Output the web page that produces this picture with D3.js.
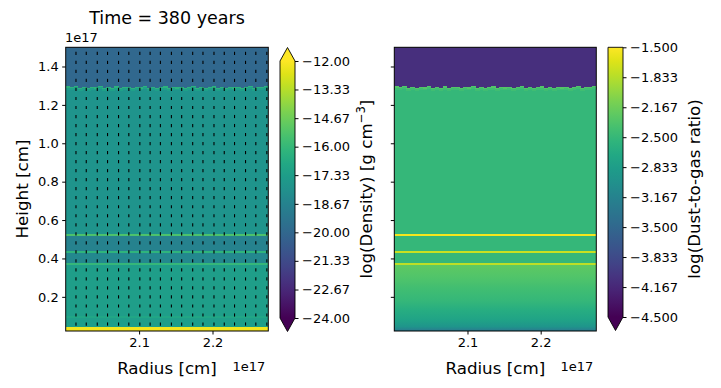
<!DOCTYPE html>
<html><head><meta charset="utf-8">
<script src="https://cdn.jsdelivr.net/npm/d3@7"></script>
<style>body{margin:0;background:#fff}svg{display:block}text{font-family:"DejaVu Sans",sans-serif;fill:#000}</style>
</head><body><svg id="c" width="721" height="388"></svg>
<script>
// ---------- data (heights/radii in units of 1e17 cm) ----------
const title = "Time = 380 years";
const radiusDomain = [2.0, 2.276];
const heightDomain = [0.022, 1.5];
const xTicks = [2.1, 2.2];
const yTicks = [0.2, 0.4, 0.6, 0.8, 1.0, 1.2, 1.4];
const densTicks = [-12.00, -13.33, -14.67, -16.00, -17.33, -18.67, -20.00, -21.33, -22.67, -24.00];
const dustTicks = [-1.500, -1.833, -2.167, -2.500, -2.833, -3.167, -3.500, -3.833, -4.167, -4.500];
// ragged shock front height per radial column
const frontHeight = [1.296,1.292,1.298,1.290,1.294,1.289,1.295,1.291,1.297,1.288,1.293,1.290,1.296,1.289,1.292,1.295,1.288,1.293,1.291,1.297,1.289,1.294,1.290,1.292,1.296,1.288,1.293,1.291,1.295,1.289,1.292,1.297,1.290,1.294,1.288,1.293,1.296,1.290,1.292,1.289,1.295,1.291,1.294,1.288,1.293,1.297,1.290,1.292,1.295,1.298];
// values above front / at front edge
const aboveDens = -20.0, aboveDust = -4.1;
const edgeDens = -16.3, edgeDust = -2.3;
// banded vertical profile between the layers and the front
const bandLo =   [0.368, 0.519, 0.437, 0.427, 0.378, 0.368];
const bandHi =   [1.300, 0.529, 0.519, 0.437, 0.427, 0.378];
const bandDens = [-17.8, -15.4, -18.7, -16.2, -18.4, -16.0];
const bandDust = [-2.50, -1.55, -2.50, -1.75, -2.50, -1.80];
// lower region profile (below the layers)
const lowDensZ = [0.368, 0.100, 0.100, 0.092, 0.092, 0.043, 0.043, 0.022];
const lowDens  = [-17.3, -17.3, -16.9, -16.9, -17.3, -17.3, -12.2, -12.2];
const lowDustZ = [0.368, 0.300, 0.240, 0.180, 0.130, 0.080, 0.045, 0.022];
const lowDust  = [-2.24, -2.33, -2.42, -2.50, -2.63, -2.76, -2.94, -3.28];
// velocity arrows (quiver) sample points
const quiverR = [2.014,2.028,2.043,2.057,2.072,2.086,2.101,2.115,2.129,2.144,2.158,2.173,2.187,2.202,2.216,2.230,2.245,2.259,2.274];
const quiverZ = [1.460,1.413,1.366,1.319,1.272,1.225,1.178,1.131,1.084,1.037,0.990,0.943,0.896,0.849,0.802,0.755,0.708,0.661,0.614,0.567,0.520,0.473,0.426,0.379,0.332,0.285,0.238,0.191,0.144,0.097,0.050];
const quiverSpeed = 1.0;

// ---------- layout ----------
const svg = d3.select("#c");
const topY = 47.3, botY = 331;
const panels = [
  {x0: 65.7, x1: 268.3, key: "dens", above: aboveDens, edge: edgeDens, vals: bandDens, lowZ: lowDensZ, low: lowDens,
   cmap: d3.scaleSequential(d3.interpolateViridis).domain([-24, -12]),
   cb: {x: 280, w: 15, y0: 61, y1: 318, extTop: true, extBot: true, ticks: densTicks, fmt: d3.format(".2f"),
        label: "dens", labelX: 372}},
  {x0: 394.3, x1: 596.3, key: "dust", above: aboveDust, edge: edgeDust, vals: bandDust, lowZ: lowDustZ, low: lowDust,
   cmap: d3.scaleSequential(d3.interpolateViridis).domain([-4.5, -1.5]),
   cb: {x: 608, w: 15, y0: 47.3, y1: 317, extTop: false, extBot: true, ticks: dustTicks, fmt: d3.format(".3f"),
        label: "log(Dust-to-gas ratio)", labelX: 700}}
];
const y = d3.scaleLinear().domain(heightDomain).range([botY, topY]);
const minus = s => s.replace("-", "\u2212");
const defs = svg.append("defs");

panels.forEach((p, pi) => {
  const x = d3.scaleLinear().domain(radiusDomain).range([p.x0, p.x1]);
  const clipId = "clip" + pi;
  defs.append("clipPath").attr("id", clipId).append("rect")
    .attr("x", p.x0).attr("y", topY).attr("width", p.x1 - p.x0).attr("height", botY - topY);
  const g = svg.append("g").attr("clip-path", `url(#${clipId})`).attr("shape-rendering", "crispEdges");
  const colW = (radiusDomain[1] - radiusDomain[0]) / frontHeight.length;
  g.append("rect").attr("x", p.x0).attr("y", topY).attr("width", p.x1 - p.x0)
    .attr("height", y(1.28) - topY).attr("fill", p.cmap(p.above));
  const lgId = "low" + pi;
  const lg = defs.append("linearGradient").attr("id", lgId).attr("gradientUnits", "userSpaceOnUse")
    .attr("x1", 0).attr("x2", 0).attr("y1", y(p.lowZ[0])).attr("y2", y(p.lowZ[p.lowZ.length - 1]));
  const yl0 = y(p.lowZ[0]), yl1 = y(p.lowZ[p.lowZ.length - 1]);
  p.lowZ.forEach((z, i) => lg.append("stop").attr("offset", (y(z) - yl0) / (yl1 - yl0)).attr("stop-color", p.cmap(p.low[i])));
  g.append("rect").attr("x", p.x0).attr("width", p.x1 - p.x0).attr("y", yl0).attr("height", yl1 - yl0 + 1)
    .attr("fill", `url(#${lgId})`);
  bandLo.forEach((lo, i) => {
    const hi = i === 0 ? 1.28 : bandHi[i];
    g.append("rect").attr("x", p.x0).attr("width", p.x1 - p.x0)
      .attr("y", y(hi)).attr("height", y(lo) - y(hi))
      .attr("fill", p.cmap(p.vals[i]));
  });
  frontHeight.forEach((fh, j) => {
    const r0 = radiusDomain[0] + j * colW, r1 = r0 + colW;
    const cell = g.append("g");
    cell.append("rect").attr("x", x(r0)).attr("width", x(r1) - x(r0) + 0.6)
      .attr("y", y(fh - 0.006)).attr("height", y(1.28) - y(fh - 0.006) + 0.5)
      .attr("fill", p.cmap(p.vals[0]));
    cell.append("rect").attr("x", x(r0)).attr("width", x(r1) - x(r0) + 0.6)
      .attr("y", y(fh - 0.006)).attr("height", y(fh - 0.016) - y(fh - 0.006))
      .attr("fill", p.cmap(p.edge * 0.4 + p.vals[0] * 0.6));
    cell.append("rect").attr("x", x(r0)).attr("width", x(r1) - x(r0) + 0.6)
      .attr("y", y(fh)).attr("height", y(fh - 0.006) - y(fh))
      .attr("fill", p.cmap(p.edge));
  });
  if (p.key === "dens") {
    const qg = svg.append("g").attr("stroke", "#000").attr("stroke-width", 1.1);
    quiverZ.forEach(z => quiverR.forEach(r => {
      qg.append("line").attr("x1", x(r)).attr("x2", x(r))
        .attr("y1", y(z)).attr("y2", y(z) - 3.2 * quiverSpeed);
    }));
  }
  svg.append("rect").attr("x", p.x0).attr("y", topY).attr("width", p.x1 - p.x0).attr("height", botY - topY)
    .attr("fill", "none").attr("stroke", "#000").attr("stroke-width", 1);
  const xa = svg.append("g").attr("transform", `translate(0,${botY})`)
    .call(d3.axisBottom(x).tickValues(xTicks).tickSize(3.5).tickPadding(3.5).tickFormat(d3.format(".1f")));
  xa.select(".domain").remove();
  xa.selectAll("text").style("font-size", "13px").style("font-family", "DejaVu Sans");
  const ya = svg.append("g").attr("transform", `translate(${p.x0},0)`)
    .call(d3.axisLeft(y).tickValues(yTicks).tickSize(3.5).tickPadding(3.5).tickFormat(pi === 0 ? d3.format(".1f") : () => ""));
  ya.select(".domain").remove();
  ya.selectAll("text").style("font-size", "13px").style("font-family", "DejaVu Sans");
  svg.append("text").attr("x", (p.x0 + p.x1) / 2).attr("y", 374).attr("text-anchor", "middle")
    .style("font-size", "16.7px").text("Radius [cm]");
  svg.append("text").attr("x", p.x1 - 3).attr("y", 371).attr("text-anchor", "end")
    .style("font-size", "13px").text("1e17");

  const cb = p.cb;
  const cy = d3.scaleLinear().domain([cb.ticks[cb.ticks.length - 1], cb.ticks[0]]).range([cb.y1, cb.y0]);
  const gradId = "grad" + pi;
  const grad = defs.append("linearGradient").attr("id", gradId).attr("x1", 0).attr("x2", 0).attr("y1", 1).attr("y2", 0);
  d3.range(0, 1.0001, 0.05).forEach(t => grad.append("stop").attr("offset", t)
    .attr("stop-color", p.cmap(cy.domain()[0] + t * (cy.domain()[1] - cy.domain()[0]))));
  svg.append("rect").attr("x", cb.x).attr("y", cb.y0).attr("width", cb.w).attr("height", cb.y1 - cb.y0)
    .attr("fill", `url(#${gradId})`);
  const ext = 13.5;
  if (cb.extTop) svg.append("path").attr("d", `M${cb.x},${cb.y0}L${cb.x + cb.w / 2},${cb.y0 - ext}L${cb.x + cb.w},${cb.y0}Z`)
    .attr("fill", p.cmap(cy.domain()[1]));
  if (cb.extBot) svg.append("path").attr("d", `M${cb.x},${cb.y1}L${cb.x + cb.w / 2},${cb.y1 + ext}L${cb.x + cb.w},${cb.y1}Z`)
    .attr("fill", p.cmap(cy.domain()[0]));
  const outline = `M${cb.x},${cb.y1}` + (cb.extBot ? `L${cb.x + cb.w / 2},${cb.y1 + ext}` : "") + `L${cb.x + cb.w},${cb.y1}` +
    `L${cb.x + cb.w},${cb.y0}` + (cb.extTop ? `L${cb.x + cb.w / 2},${cb.y0 - ext}` : "") + `L${cb.x},${cb.y0}Z`;
  svg.append("path").attr("d", outline).attr("fill", "none").attr("stroke", "#000").attr("stroke-width", 0.9);
  const ca = svg.append("g").attr("transform", `translate(${cb.x + cb.w},0)`)
    .call(d3.axisRight(cy).tickValues(cb.ticks).tickSize(3.5).tickPadding(3.5).tickFormat(d => minus(cb.fmt(d))));
  ca.select(".domain").remove();
  ca.selectAll("text").style("font-size", "13px").style("font-family", "DejaVu Sans");
  const lab = svg.append("text").attr("transform", `translate(${cb.labelX},189) rotate(-90)`)
    .attr("text-anchor", "middle").style("font-size", "16.7px");
  if (cb.label === "dens") {
    lab.append("tspan").text("log(Density) [g cm");
    lab.append("tspan").attr("dy", -7).style("font-size", "11.7px").text("\u22123");
    lab.append("tspan").attr("dy", 7).text("]");
  } else lab.text(cb.label);
});

svg.append("text").attr("x", 167).attr("y", 24).attr("text-anchor", "middle").style("font-size", "17.5px").text(title);
svg.append("text").attr("x", 65).attr("y", 42).style("font-size", "13px").text("1e17");
svg.append("text").attr("transform", "translate(28,189) rotate(-90)").attr("text-anchor", "middle")
  .style("font-size", "16.7px").text("Height [cm]");
</script></body></html>
